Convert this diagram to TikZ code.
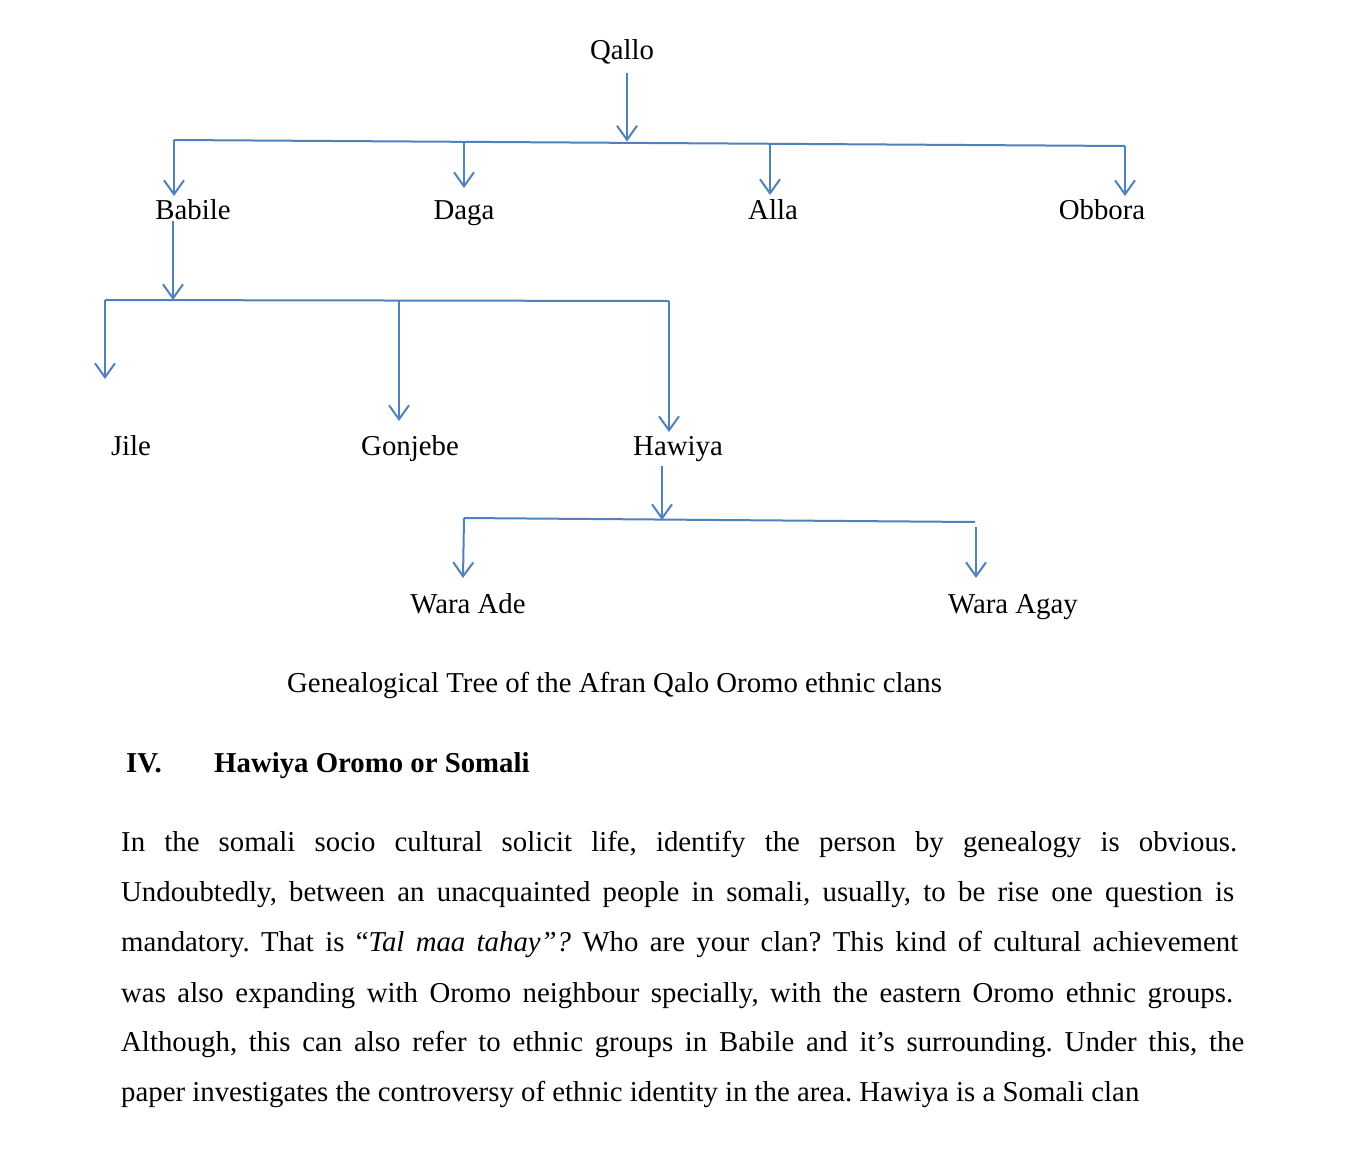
\documentclass[tikz,border=0pt]{standalone}
\usepackage{fontspec}
\setmainfont{Liberation Serif}
\usetikzlibrary{arrows.meta}
\definecolor{linkblue}{RGB}{79,129,189}
\frenchspacing
\begin{document}
\begin{tikzpicture}[x=1pt,y=-1pt,
  lab/.style={anchor=base,inner sep=0pt,font=\fontsize{28.8}{34}\selectfont},
  body/.style={anchor=base west,inner sep=0pt,font=\fontsize{28.8}{34}\selectfont\frenchspacing},
  link/.style={draw=linkblue,line width=2pt},
  arr/.style={link,-{Straight Barb[length=14pt,width=20pt]}}]
\useasboundingbox[fill=white] (0,0) rectangle (1354,1170);

% labels
\node[lab] (qallo)  at (622,59)  {Qallo};
\node[lab] (babile) at (193,219) {Babile};
\node[lab] (daga)   at (464,219) {Daga};
\node[lab] (alla)   at (773,219) {Alla};
\node[lab] (obbora) at (1102,219) {Obbora};
\node[lab] (jile)   at (131,455) {Jile};
\node[lab] (gonjebe) at (410,455) {Gonjebe};
\node[lab] (hawiya) at (678,455) {Hawiya};
\node[lab] (waraade) at (468,613) {Wara Ade};
\node[lab] (waraagay) at (1013,613) {Wara Agay};

% junction coordinates
\coordinate (q0) at (627,73);
\coordinate (q1) at (627,141.5);
\coordinate (b1L) at (174,140);
\coordinate (b1R) at (1125,146);
\coordinate (d0) at (464,141.8);
\coordinate (a0) at (770,143.8);
\coordinate (tBabile) at (174,196);
\coordinate (tDaga) at (464,188);
\coordinate (tAlla) at (770,195);
\coordinate (tObbora) at (1125,196);

\coordinate (bb0) at (173,221);
\coordinate (bb1) at (173,300);
\coordinate (b2L) at (105,300);
\coordinate (b2M) at (399,300);
\coordinate (b2R) at (669,301);
\coordinate (tJile) at (105,379);
\coordinate (tGonjebe) at (399,421);
\coordinate (tHawiya) at (669,432);

\coordinate (h0) at (662,466);
\coordinate (h1) at (662,520);
\coordinate (b3L) at (464,518);
\coordinate (b3R) at (975,522);
\coordinate (w0) at (976,527);
\coordinate (tWaraAde) at (463,578);
\coordinate (tWaraAgay) at (976,578);

% level 1
\draw[arr] (q0) -- (q1);
\draw[link] (b1L) -- (b1R);
\draw[arr] (b1L) -- (tBabile);
\draw[arr] (d0) -- (tDaga);
\draw[arr] (a0) -- (tAlla);
\draw[arr] (b1R) -- (tObbora);

% level 2
\draw[arr] (bb0) -- (bb1);
\draw[link] (b2L) -- (b2R);
\draw[arr] (b2L) -- (tJile);
\draw[arr] (b2M) -- (tGonjebe);
\draw[arr] (b2R) -- (tHawiya);

% level 3
\draw[arr] (h0) -- (h1);
\draw[link] (b3L) -- (b3R);
\draw[arr] (b3L) -- (tWaraAde);
\draw[arr] (w0) -- (tWaraAgay);

% caption and text
\node[body] (caption) at (287,692) {Genealogical Tree of the Afran Qalo Oromo ethnic clans};
\node[body,font=\fontsize{28.8}{34}\selectfont\bfseries] (secnum) at (126,772) {IV.};
\node[body,font=\fontsize{28.8}{34}\selectfont\bfseries] (sectitle) at (214,772) {Hawiya Oromo or Somali};

\node[body] (l1) at (121,851) {\makebox[1116pt][s]{In the somali socio cultural solicit life, identify the person by genealogy is obvious.}};
\node[body] (l2) at (121,901) {\makebox[1113pt][s]{Undoubtedly, between an unacquainted people in somali, usually, to be rise one question is}};
\node[body] (l3) at (121,951) {\makebox[1117pt][s]{mandatory. That is “\textit{Tal maa tahay”?} Who are your clan? This kind of cultural achievement}};
\node[body] (l4) at (121,1002) {\makebox[1112pt][s]{was also expanding with Oromo neighbour specially, with the eastern Oromo ethnic groups.}};
\node[body] (l5) at (121,1051) {\makebox[1123pt][s]{Although, this can also refer to ethnic groups in Babile and it’s surrounding. Under this, the}};
\node[body] (l6) at (121,1101) {paper investigates the controversy of ethnic identity in the area. Hawiya is a Somali clan};
\end{tikzpicture}
\end{document}
